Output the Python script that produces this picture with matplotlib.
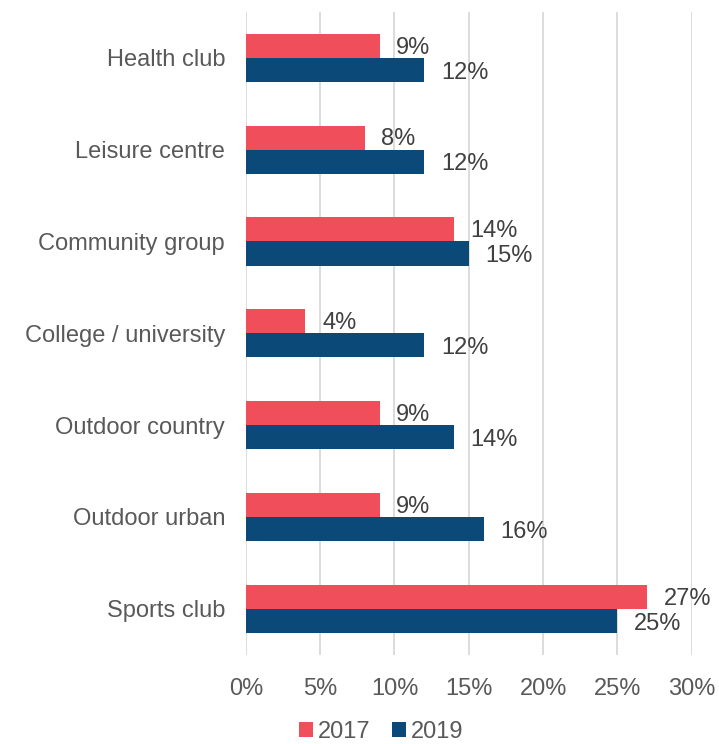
import matplotlib.pyplot as plt
import numpy as np

plt.rcParams['font.family'] = ['Liberation Sans', 'DejaVu Sans']

categories = ['Health club', 'Leisure centre', 'Community group', 'College / university',
              'Outdoor country', 'Outdoor urban', 'Sports club']
vals_2017 = [9, 8, 14, 4, 9, 9, 27]
vals_2019 = [12, 12, 15, 12, 14, 16, 25]
xticks = [0, 5, 10, 15, 20, 25, 30]

red = '#EF4E5A'
blue = '#0B4A78'
gray = '#595959'
fs = 17

fig = plt.figure(figsize=(7.19, 7.44), dpi=100)
ax = fig.add_axes([0.342, 0.12, 0.62, 0.864])

y = np.arange(len(categories))
h = 0.262
ax.barh(y - h / 2, vals_2017, height=h, color=red, label='2017', zorder=3)
ax.barh(y + h / 2, vals_2019, height=h, color=blue, label='2019', zorder=3)

# value labels just past the end of each bar
for yi, v in zip(y, vals_2017):
    ax.annotate(f'{v}%', (v, yi - h / 2 + 0.02), xytext=(12, 0), textcoords='offset points',
                va='center', ha='left', fontsize=fs, color='#404040')
for yi, v in zip(y, vals_2019):
    ax.annotate(f'{v}%', (v, yi + h / 2 + 0.03), xytext=(12, 0), textcoords='offset points',
                va='center', ha='left', fontsize=fs, color='#404040')

ax.set_ylim(len(categories) - 0.5, -0.5)
ax.set_xlim(0, 30)
ax.set_yticks(y)
ax.set_yticklabels(categories)
ax.set_xticks(xticks)
ax.set_xticklabels([f'{t}%' for t in xticks])
ax.tick_params(axis='both', length=0, labelsize=fs, labelcolor=gray)
ax.tick_params(axis='y', pad=15)
ax.tick_params(axis='x', pad=17)
ax.grid(axis='x', color='#D9D9D9', linewidth=1.3, zorder=0)
for s in ax.spines.values():
    s.set_visible(False)

fig.legend(loc='lower center', bbox_to_anchor=(0.53, -0.027), ncol=2, frameon=False,
           fontsize=fs, labelcolor=gray, handlelength=0.6, handleheight=0.6,
           handletextpad=0.2, columnspacing=0.9)

fig.savefig('out.png', dpi=100)
